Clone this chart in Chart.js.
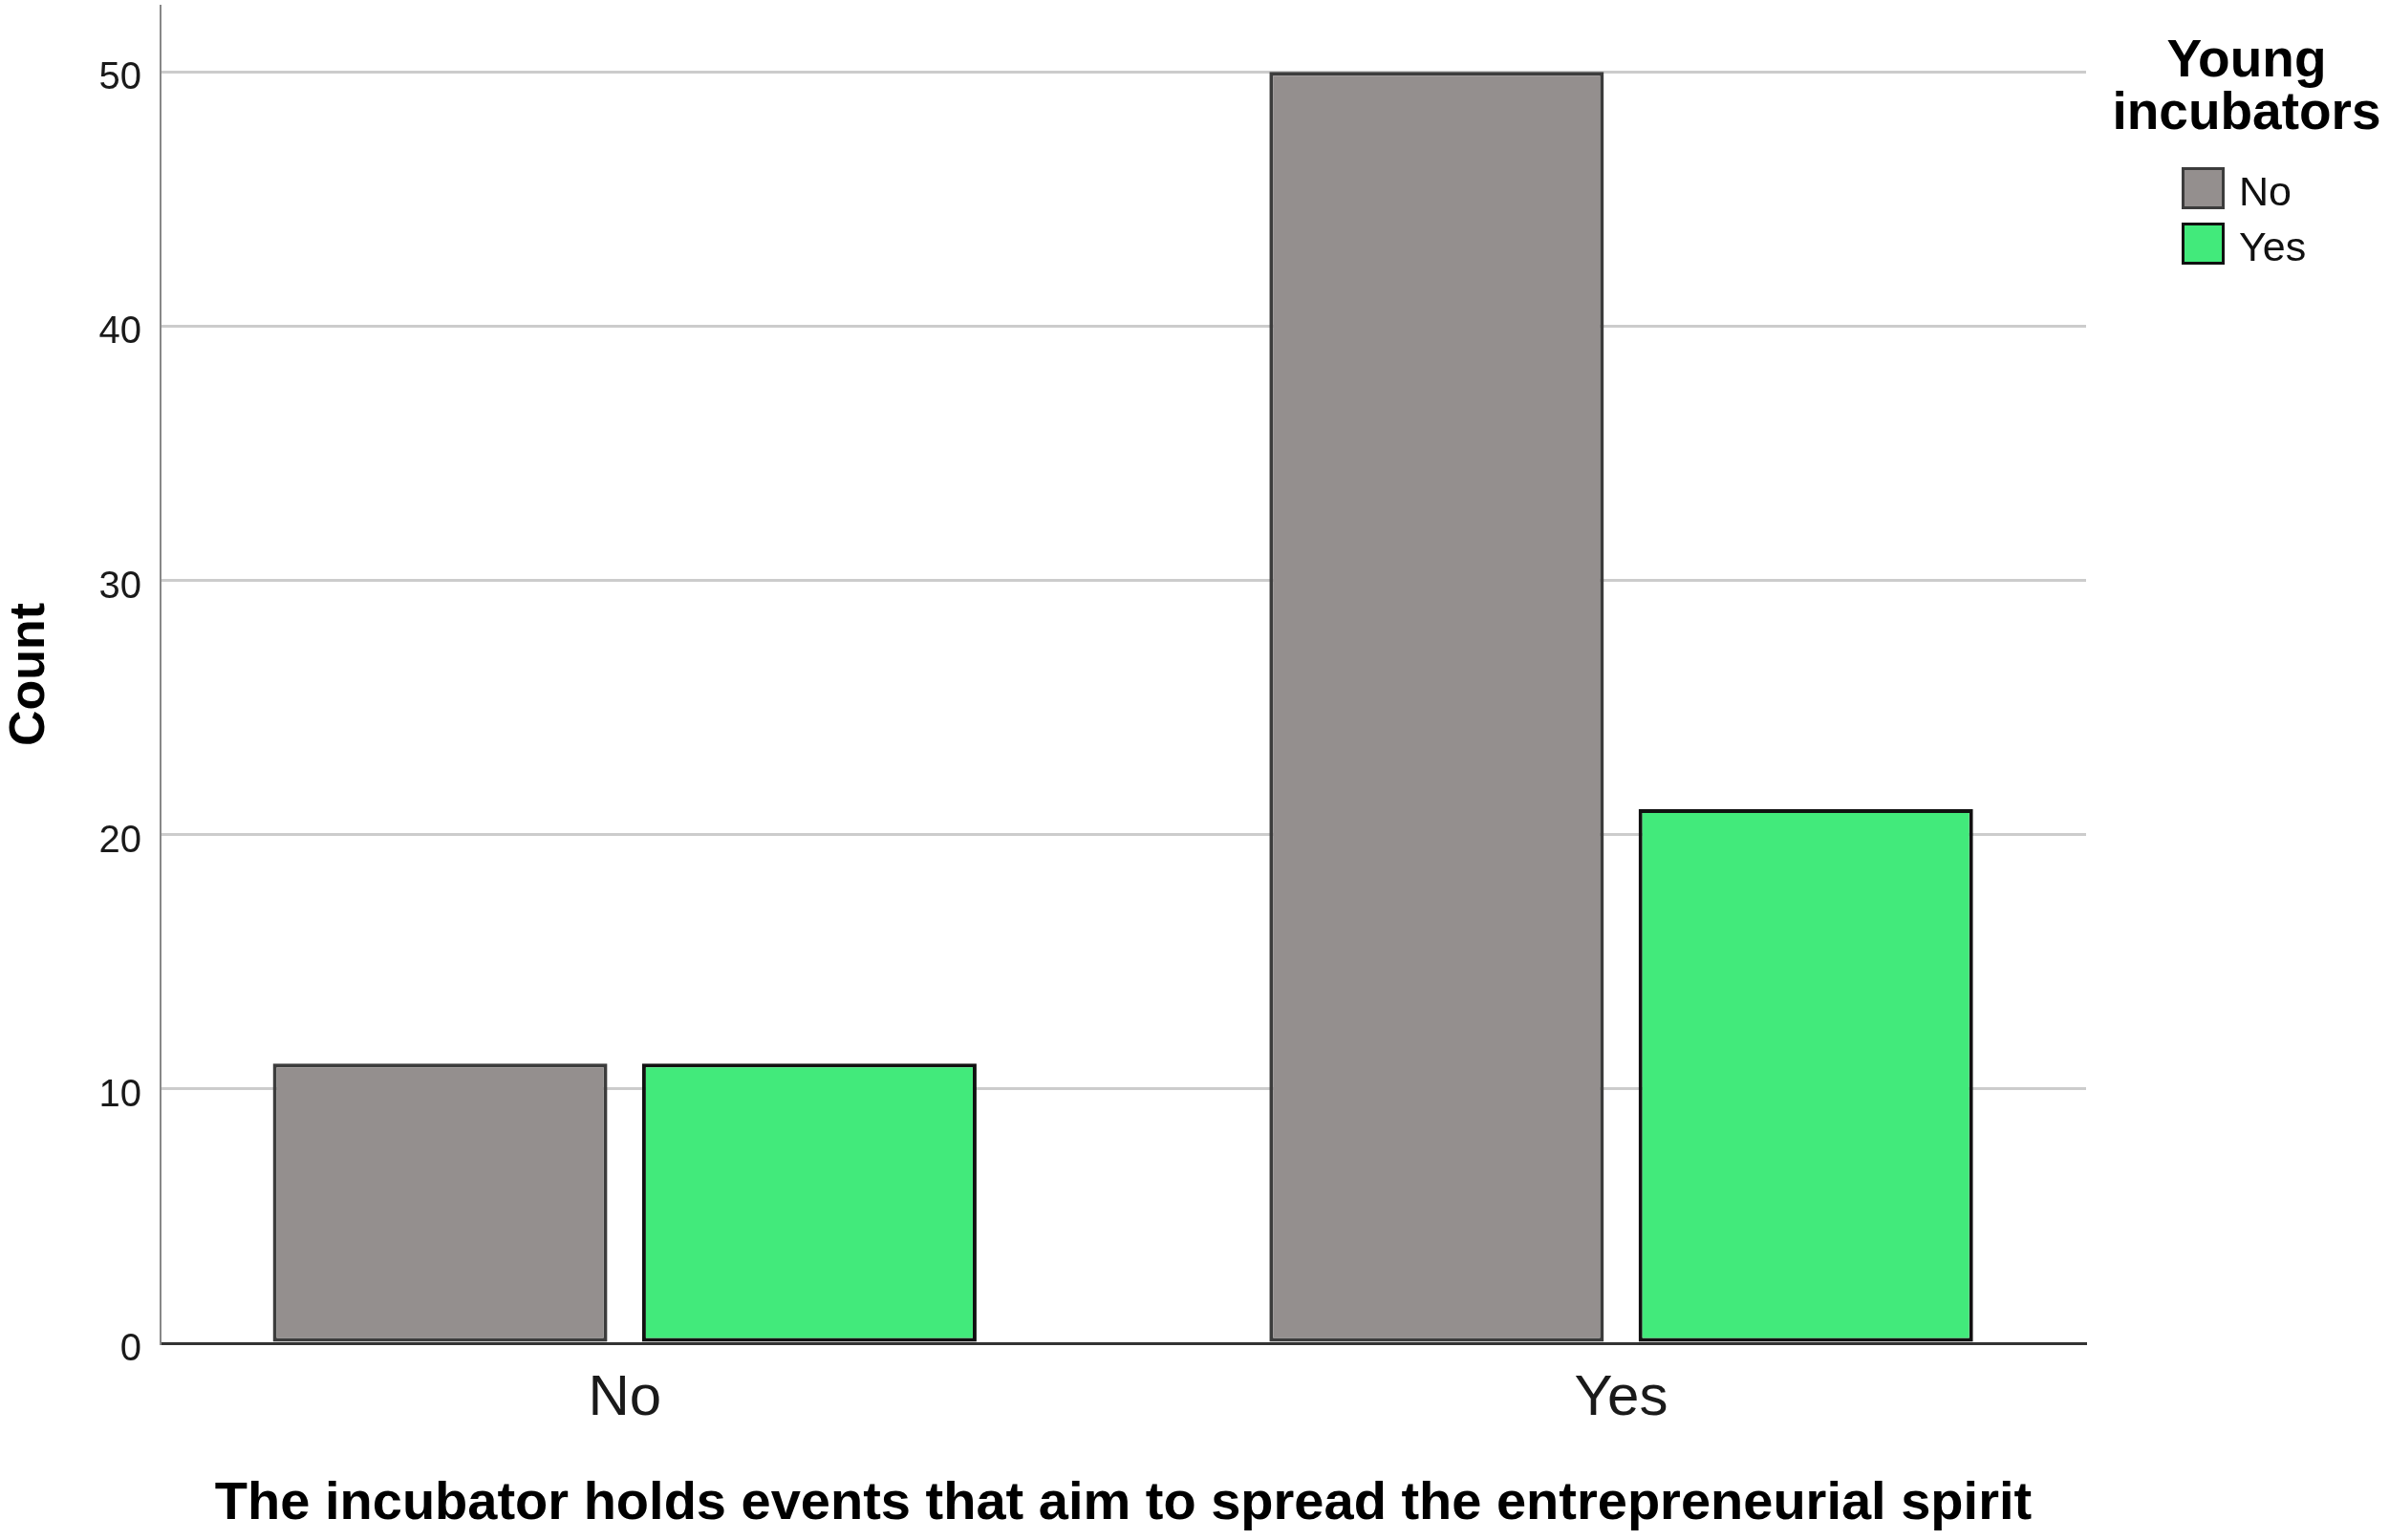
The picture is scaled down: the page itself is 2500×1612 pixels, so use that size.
<!DOCTYPE html>
<html><head><meta charset="utf-8">
<script src="https://cdn.jsdelivr.net/npm/chart.js@4/dist/chart.umd.min.js"></script>
<style>html,body{margin:0;padding:0;background:#fff;} #wrap{width:2500px;height:1612px;position:relative;}</style>
</head><body><div id="wrap"><canvas id="c" width="2500" height="1612"></canvas></div>
<script>
const categories = ['No', 'Yes'];
const seriesNames = ['No', 'Yes'];
const seriesNo = [11, 50];
const seriesYes = [11, 21];
const yTicks = [0, 10, 20, 30, 40, 50];
const xTitle = 'The incubator holds events that aim to spread the entrepreneurial spirit';
const yTitle = 'Count';
const legendTitle = ['Young', 'incubators'];

const NARROW = '"Liberation Sans Narrow", "Arial Narrow", "Liberation Sans", Arial, sans-serif';
const BOLD = '"Liberation Sans", Arial, sans-serif';

const legendPlugin = {
  id: 'spssLegend',
  afterDraw(chart) {
    const ctx = chart.ctx;
    const ca = chart.chartArea;
    const cx = ca.right + 168;
    ctx.save();
    ctx.fillStyle = '#000';
    ctx.textAlign = 'center';
    ctx.textBaseline = 'alphabetic';
    ctx.font = 'bold 55px ' + BOLD;
    ctx.fillText(legendTitle[0], cx, 80);
    ctx.fillText(legendTitle[1], cx, 135);
    const boxX = ca.right + 100;
    chart.data.datasets.forEach((ds, i) => {
      const top = 175 + i * 58;
      ctx.fillStyle = ds.backgroundColor;
      ctx.fillRect(boxX, top, 45, 44);
      ctx.lineWidth = 3;
      ctx.strokeStyle = ds.borderColor;
      ctx.strokeRect(boxX + 1.5, top + 1.5, 42, 41);
      ctx.fillStyle = '#111';
      ctx.textAlign = 'left';
      ctx.font = '43px ' + NARROW;
      ctx.fillText(ds.label, boxX + 60, top + 40);
    });
    ctx.restore();
  }
};

new Chart(document.getElementById('c'), {
  type: 'bar',
  data: {
    datasets: [
      {
        label: seriesNames[0],
        data: categories.map((c, i) => ({x: i, y: seriesNo[i]})),
        backgroundColor: '#948f8e',
        borderColor: '#3c3c3c',
        borderWidth: 4,
        borderSkipped: false
      },
      {
        label: seriesNames[1],
        data: categories.map((c, i) => ({x: i, y: seriesYes[i]})),
        backgroundColor: '#42ea7b',
        borderColor: '#111111',
        borderWidth: 4,
        borderSkipped: false
      }
    ]
  },
  options: {
    responsive: false,
    devicePixelRatio: 1,
    animation: false,
    barPercentage: 0.906,
    categoryPercentage: 0.741,
    layout: { padding: { left: 0, right: 317, top: 6, bottom: 0 } },
    plugins: {
      legend: { display: false },
      tooltip: { enabled: false }
    },
    scales: {
      x: {
        type: 'linear',
        offset: false,
        min: -0.4658,
        max: 1.4665,
        afterBuildTicks: (s) => { s.ticks = categories.map((c, i) => ({value: i})); },
        afterFit: (s) => { s.height = 206; s.paddingLeft = 0; s.paddingRight = 0; },
        grid: { offset: false, drawOnChartArea: false, drawTicks: false, color: 'rgba(0,0,0,0)' },
        border: { display: true, color: '#333333', width: 3 },
        ticks: {
          callback: (v) => categories[v],
          font: { size: 60, family: NARROW },
          color: '#1a1a1a',
          padding: 22,
          maxRotation: 0
        },
        title: {
          display: true,
          text: xTitle,
          font: { size: 56, weight: 'bold', family: BOLD },
          color: '#000',
          padding: { top: 0, bottom: 4 }
        }
      },
      y: {
        min: 0,
        max: 52.6,
        afterBuildTicks: (s) => { s.ticks = yTicks.map(v => ({value: v})); },
        afterFit: (s) => { s.width = 168; s.paddingTop = 0; s.paddingBottom = 0; },
        grid: {
          color: (c) => (c.tick && c.tick.value === 0) ? 'rgba(0,0,0,0)' : '#cccccc',
          lineWidth: 3,
          drawTicks: false
        },
        border: { display: true, color: '#888888', width: 2 },
        ticks: {
          font: { size: 40, family: NARROW },
          color: '#1a1a1a',
          padding: 20,
          labelOffset: 7
        },
        title: {
          display: true,
          text: yTitle,
          font: { size: 52, weight: 'bold', family: BOLD },
          color: '#000',
          padding: { top: 0, bottom: 0 }
        }
      }
    }
  },
  plugins: [legendPlugin]
});
</script>
</body></html>
